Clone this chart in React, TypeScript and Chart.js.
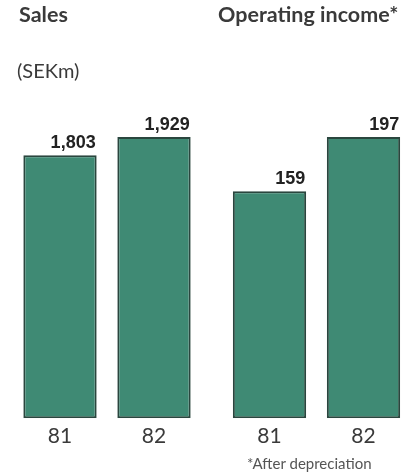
import React, { useEffect, useRef } from "react";
import { Chart, registerables } from "chart.js";

Chart.register(...registerables);

const years = ["81", "82"];
const salesValues = [1803, 1929];
const incomeValues = [159, 197];
const salesLabels = ["1,803", "1,929"];
const incomeLabels = ["159", "197"];

const BAR_FILL = "#3f8a74";
const BAR_BORDER = "#2a463e";
const TEXT = "#3a3a3a";

const valueLabelPlugin = {
  id: "valueLabels",
  afterDatasetsDraw(chart: any) {
    const labels: string[] = chart.options.plugins.valueLabels.labels;
    const ctx = chart.ctx;
    const meta = chart.getDatasetMeta(0);
    ctx.save();
    ctx.font = "bold 18px 'Liberation Sans', Arial, sans-serif";
    ctx.fillStyle = "#222222";
    ctx.textAlign = "right";
    ctx.textBaseline = "alphabetic";
    meta.data.forEach((bar: any, i: number) => {
      ctx.fillText(labels[i], bar.x + bar.width / 2 - 1, bar.y - 7);
    });
    ctx.restore();
  },
};

function BarPanel(props: {
  values: number[];
  labels: string[];
  left: number;
  width: number;
  padLeft: number;
  padRight: number;
}) {
  const ref = useRef<HTMLCanvasElement>(null);
  useEffect(() => {
    if (!ref.current) return;
    const chart = new Chart(ref.current, {
      type: "bar",
      data: {
        labels: years,
        datasets: [
          {
            data: props.values,
            backgroundColor: BAR_FILL,
            borderColor: BAR_BORDER,
            borderWidth: 2,
            borderSkipped: false,
            barPercentage: 0.78,
            categoryPercentage: 1,
          },
        ],
      },
      options: {
        responsive: false,
        maintainAspectRatio: false,
        animation: false,
        layout: {
          padding: { top: 137, bottom: 20.6, left: props.padLeft, right: props.padRight },
        },
        plugins: {
          legend: { display: false },
          tooltip: { enabled: false },
          valueLabels: { labels: props.labels },
        } as any,
        scales: {
          x: {
            grid: { display: false, drawTicks: false },
            border: { display: false },
            ticks: {
              color: TEXT,
              padding: 5,
              font: { family: "Lato, 'Open Sans', sans-serif", size: 21 },
            },
          },
          y: {
            display: false,
            min: 0,
            max: Math.max(...props.values),
          },
        },
      },
      plugins: [valueLabelPlugin],
    });
    return () => chart.destroy();
  }, []);
  return (
    <canvas
      ref={ref}
      width={props.width}
      height={474}
      style={{ position: "absolute", left: props.left, top: 0, width: props.width, height: 474 }}
    />
  );
}

export default function App() {
  const base: React.CSSProperties = {
    position: "absolute",
    fontFamily: "Lato, 'Open Sans', sans-serif",
    color: TEXT,
    whiteSpace: "nowrap",
    lineHeight: 1,
  };
  return (
    <div style={{ position: "absolute", left: 0, top: 0, width: 415, height: 474, background: "#ffffff" }}>
      <BarPanel values={salesValues} labels={salesLabels} left={0} width={207} padLeft={13} padRight={6} />
      <BarPanel values={incomeValues} labels={incomeLabels} left={207} width={208} padLeft={15.5} padRight={4.5} />
      <div style={{ ...base, left: 19, top: 4, fontSize: 21.5, fontWeight: 700 }}>Sales</div>
      <div style={{ ...base, left: 218, top: 4, fontSize: 21.5, fontWeight: 700 }}>Operating income*</div>
      <div style={{ ...base, left: 17, top: 60, fontSize: 20 }}>(SEKm)</div>
      <div style={{ ...base, left: 247, top: 456, fontSize: 15, color: "#555555" }}>*After depreciation</div>
    </div>
  );
}
